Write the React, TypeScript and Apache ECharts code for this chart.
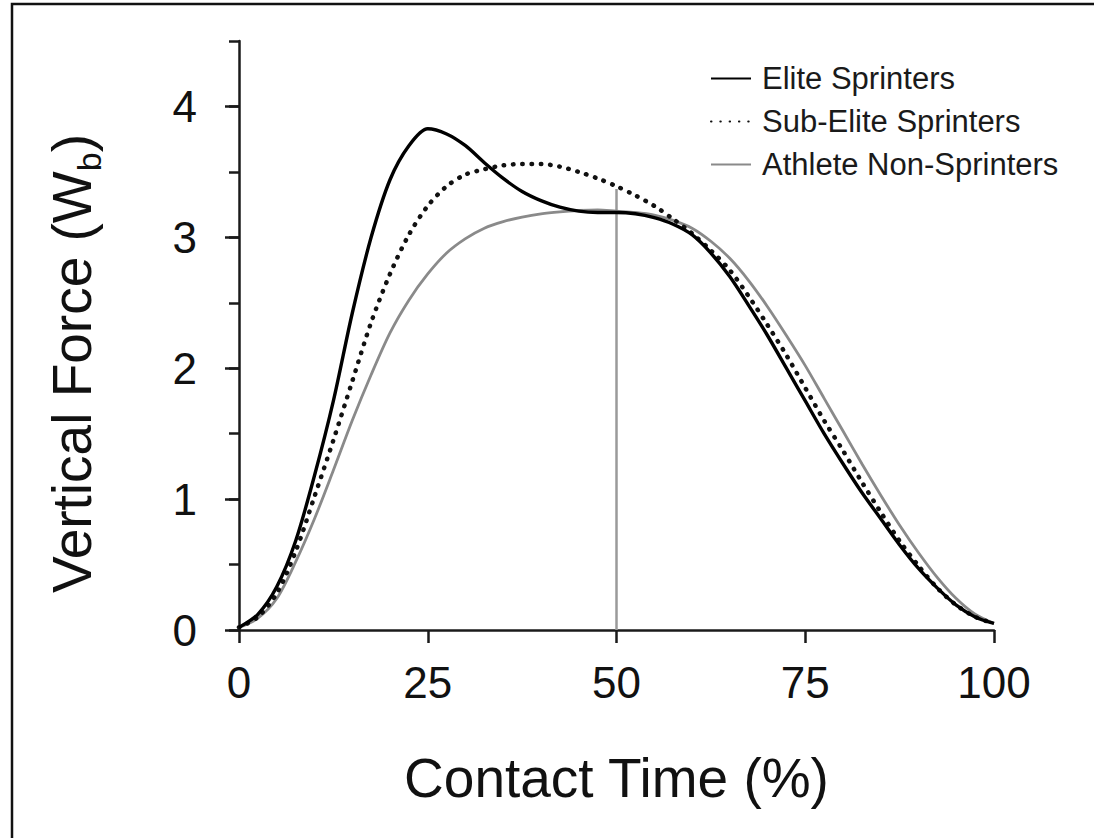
import React, { useEffect, useRef } from "react";
import * as echarts from "echarts";

const xValues = [0, 2.5, 5, 7.5, 10, 12.5, 15, 17.5, 20, 22.5, 25, 27.5, 30, 32.5, 35, 37.5, 40, 42.5, 45, 47.5, 50, 52.5, 55, 57.5, 60, 62.5, 65, 67.5, 70, 72.5, 75, 77.5, 80, 82.5, 85, 87.5, 90, 92.5, 95, 97.5, 100];

const eliteValues = [0.02, 0.12, 0.33, 0.68, 1.18, 1.75, 2.42, 3.0, 3.44, 3.7, 3.83, 3.79, 3.7, 3.57, 3.45, 3.35, 3.28, 3.23, 3.2, 3.19, 3.19, 3.18, 3.15, 3.1, 3.02, 2.88, 2.7, 2.48, 2.25, 2.0, 1.75, 1.5, 1.27, 1.05, 0.85, 0.65, 0.47, 0.32, 0.19, 0.1, 0.05];

const subEliteValues = [0.02, 0.1, 0.28, 0.6, 1.02, 1.45, 1.9, 2.35, 2.72, 3.02, 3.24, 3.39, 3.48, 3.52, 3.55, 3.56, 3.56, 3.54, 3.5, 3.45, 3.39, 3.32, 3.24, 3.14, 3.03, 2.9, 2.75, 2.55, 2.33, 2.1, 1.85, 1.6, 1.37, 1.13, 0.9, 0.68, 0.49, 0.32, 0.19, 0.1, 0.05];

const nonSprinterValues = [0.02, 0.09, 0.24, 0.52, 0.85, 1.22, 1.6, 1.95, 2.27, 2.52, 2.72, 2.88, 2.99, 3.07, 3.12, 3.155, 3.18, 3.195, 3.205, 3.21, 3.2, 3.19, 3.17, 3.13, 3.07, 2.97, 2.84, 2.67, 2.47, 2.25, 2.02, 1.77, 1.52, 1.27, 1.03, 0.8, 0.59, 0.4, 0.24, 0.12, 0.05];

const seriesNames = ["Elite Sprinters", "Sub-Elite Sprinters", "Athlete Non-Sprinters"];
const midlineX = [50, 50];
const midlineY = [0, 3.37];
const yMajorTicks = [0, 1, 2, 3, 4];
const xTicks = [0, 25, 50, 75, 100];

const FONT = "'Liberation Sans', Arial, Helvetica, sans-serif";

const pair = (xs: number[], ys: number[]) => xs.map((x, i) => [x, ys[i]]);

export default function App() {
  const ref = useRef<HTMLDivElement>(null);
  useEffect(() => {
    if (!ref.current) return;
    const chart = echarts.init(ref.current, null, { renderer: "svg" });
    const axisColor = "#1a1a1a";
    chart.setOption({
      animation: false,
      backgroundColor: "#ffffff",
      textStyle: { fontFamily: FONT },
      graphic: [
        {
          type: "rect",
          shape: { x: 12, y: 4, width: 1200, height: 1000 },
          style: { fill: "none", stroke: "#111", lineWidth: 2.5 },
          silent: true,
          z: 100,
        },
      ],
      grid: { left: 239, right: 100, top: 41, bottom: 208, containLabel: false },
      legend: {
        orient: "vertical",
        left: 705,
        top: 58,
        itemWidth: 40,
        itemHeight: 14,
        itemGap: 12,
        data: seriesNames,
        itemStyle: { opacity: 0 },
        textStyle: { fontSize: 31, color: "#1a1a1a", fontFamily: FONT, padding: [0, 0, 0, 6] },
      },
      xAxis: {
        type: "value",
        min: 0,
        max: 100,
        interval: 25,
        name: "Contact Time (%)",
        nameLocation: "middle",
        nameGap: 120,
        nameTextStyle: { fontSize: 55, color: "#111", fontFamily: FONT },
        axisLine: { lineStyle: { color: axisColor, width: 2.5 } },
        axisTick: { show: true, length: 13, inside: false, lineStyle: { color: axisColor, width: 2.5 }, customValues: xTicks },
        axisLabel: { fontSize: 44, color: "#111", margin: 30, fontFamily: FONT, customValues: xTicks },
        splitLine: { show: false },
      },
      yAxis: [
        {
          type: "value",
          min: 0,
          max: 4.5,
          interval: 0.5,
          position: "left",
          axisLine: { show: true, lineStyle: { color: axisColor, width: 2.5 } },
          axisTick: { show: true, length: 10, lineStyle: { color: axisColor, width: 2.5 } },
          axisLabel: { show: false },
          splitLine: { show: false },
        },
        {
          type: "value",
          min: 0,
          max: 4.5,
          position: "left",
          offset: 0,
          name: "{t|Vertical Force (W}{s|b}{t|)}",
          nameLocation: "middle",
          nameGap: 140,
          nameRotate: 90,
          nameTextStyle: {
            color: "#111",
            fontFamily: FONT,
            padding: [0, 56, 0, 0],
            rich: {
              t: { fontSize: 55, lineHeight: 55, verticalAlign: "top", fontFamily: FONT, color: "#111" },
              s: { fontSize: 34, lineHeight: 34, verticalAlign: "top", padding: [28, 0, 0, 0], fontFamily: FONT, color: "#111" },
            },
          },
          axisLine: { show: false },
          axisTick: { show: true, length: 14, lineStyle: { color: axisColor, width: 2.5 }, customValues: yMajorTicks },
          axisLabel: { fontSize: 44, color: "#111", margin: 42, fontFamily: FONT, customValues: yMajorTicks },
          splitLine: { show: false },
        },
      ],
      series: [
        {
          name: "__midline",
          type: "line",
          data: pair(midlineX, midlineY),
          symbol: "none",
          lineStyle: { color: "#9a9a9a", width: 2.5 },
          silent: true,
          z: 1,
        },
        {
          name: seriesNames[2],
          type: "line",
          data: pair(xValues, nonSprinterValues),
          smooth: 0.3,
          symbol: "none",
          color: "#8a8a8a",
          lineStyle: { color: "#8a8a8a", width: 2.8 },
          z: 2,
        },
        {
          name: seriesNames[1],
          type: "line",
          data: pair(xValues, subEliteValues),
          smooth: 0.3,
          symbol: "none",
          color: "#111",
          lineStyle: { color: "#111", width: 4.5, type: [0.5, 8.8], cap: "round" },
          z: 3,
        },
        {
          name: seriesNames[0],
          type: "line",
          data: pair(xValues, eliteValues),
          smooth: 0.3,
          symbol: "none",
          color: "#000",
          lineStyle: { color: "#000", width: 3.4 },
          z: 4,
        },
      ],
    });
    return () => chart.dispose();
  }, []);
  return (
    <div
      ref={ref}
      style={{ position: "absolute", left: 0, top: 0, width: 1094, height: 838 }}
    />
  );
}
